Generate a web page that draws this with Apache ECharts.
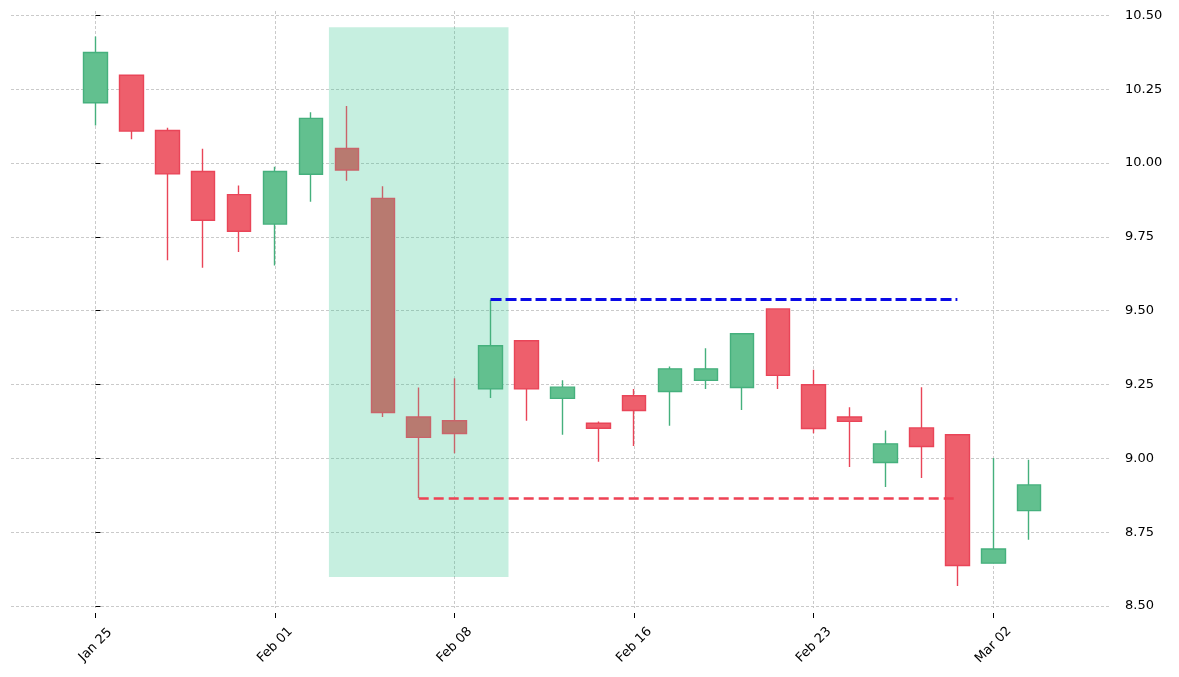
<!DOCTYPE html>
<html>
<head>
<meta charset="utf-8">
<script src="https://cdn.jsdelivr.net/npm/echarts@6/dist/echarts.min.js"></script>
<style>
  html, body { margin: 0; padding: 0; background: #fff; }
  #chart { width: 1179px; height: 677px; }
</style>
</head>
<body>
<div id="chart"></div>
<script>
// trading days shown on the chart
const dates = ['Jan 25', 'Jan 26', 'Jan 27', 'Jan 28', 'Jan 29', 'Feb 01', 'Feb 02', 'Feb 03', 'Feb 04',
    'Feb 05', 'Feb 08', 'Feb 09', 'Feb 10', 'Feb 11', 'Feb 12', 'Feb 16', 'Feb 17', 'Feb 18', 'Feb 19',
    'Feb 22', 'Feb 23', 'Feb 24', 'Feb 25', 'Feb 26', 'Mar 01', 'Mar 02', 'Mar 03'];

const opens  = [10.204, 10.297, 10.110, 9.971, 9.893, 9.793, 9.962, 10.049, 9.880, 9.140, 9.127, 9.235, 9.398,
    9.203, 9.119, 9.212, 9.226, 9.264, 9.240, 9.506, 9.249, 9.140, 8.986, 9.103, 9.080, 8.645, 8.823];
const closes = [10.374, 10.108, 9.963, 9.806, 9.769, 9.971, 10.151, 9.976, 9.155, 9.071, 9.084, 9.381, 9.235,
    9.241, 9.102, 9.162, 9.303, 9.303, 9.422, 9.281, 9.101, 9.125, 9.049, 9.040, 8.637, 8.693, 8.910];
const lows   = [10.127, 10.080, 9.671, 9.645, 9.699, 9.653, 9.869, 9.940, 9.140, 8.866, 9.017, 9.204, 9.127,
    9.080, 8.988, 9.042, 9.110, 9.235, 9.164, 9.235, 9.085, 8.971, 8.903, 8.933, 8.568, 8.645, 8.724];
const highs  = [10.428, 10.297, 10.119, 10.048, 9.924, 9.987, 10.172, 10.193, 9.921, 9.240, 9.271, 9.537, 9.398,
    9.264, 9.125, 9.235, 9.311, 9.373, 9.422, 9.506, 9.300, 9.173, 9.094, 9.241, 9.080, 9.001, 8.995];

// tick labels
const xTicks = [0, 5, 10, 15, 20, 25];
const yTicks = [8.5, 8.75, 9.0, 9.25, 9.5, 9.75, 10.0, 10.25, 10.5];

// highlighted zone (candle indices) and its price span
const zoneCandles = [7, 11];
const zonePrice = [8.598, 10.46];

// levels: resistance from the high of candle 11, support from the low of candle 9
const resistance = { from: 11, to: 24 };
const support = { from: 9, to: 23.9 };

const GREEN = '#62c08f', GREEN_LINE = '#45b07d';
const RED = '#ee5f6c', RED_LINE = '#e94558';
const BROWN = '#b87a70', BROWN_LINE = '#c9646a';

const candles = dates.map((d, i) => {
    const v = [i, opens[i], closes[i], lows[i], highs[i]];
    const inZone = i >= zoneCandles[0] && i <= zoneCandles[1];
    if (inZone && closes[i] < opens[i]) {
        return { value: v, itemStyle: { color0: BROWN, borderColor0: BROWN_LINE } };
    }
    return v;
});

const gridLine = { show: true, lineStyle: { color: '#bdbdbd', type: [3, 2], width: 0.8 } };
const tickFont = { color: '#000', fontSize: 13, fontFamily: 'DejaVu Sans' };

const chart = echarts.init(document.getElementById('chart'));
chart.setOption({
    animation: false,
    grid: { left: 11, right: 69, top: 11, bottom: 69 },
    xAxis: {
        type: 'value',
        min: -2.353,
        max: 28.25,
        offset: 5,
        axisLine: { show: false },
        axisTick: { show: true, customValues: xTicks, length: 5, lineStyle: { color: '#000', width: 1 } },
        axisLabel: Object.assign({
            customValues: xTicks,
            formatter: v => dates[v] || '',
            rotate: 45,
            align: 'center',
            verticalAlign: 'middle',
            margin: 32
        }, tickFont),
        splitLine: gridLine
    },
    yAxis: {
        type: 'value',
        position: 'right',
        min: 8.4932,
        max: 10.5146,
        offset: 5,
        scale: true,
        axisLine: { show: false },
        axisTick: { show: true, customValues: yTicks, length: 5, lineStyle: { color: '#000', width: 1 } },
        axisLabel: Object.assign({
            customValues: yTicks,
            formatter: v => v.toFixed(2),
            margin: 10
        }, tickFont),
        splitLine: gridLine
    },
    series: [
        {
            type: 'line',
            data: [],
            z: 1,
            silent: true,
            markArea: {
                silent: true,
                itemStyle: { color: 'rgba(46, 196, 140, 0.27)' },
                data: [[
                    { xAxis: zoneCandles[0] - 0.5, yAxis: zonePrice[0] },
                    { xAxis: zoneCandles[1] + 0.5, yAxis: zonePrice[1] }
                ]]
            }
        },
        {
            type: 'candlestick',
            z: 3,
            barWidth: 24,
            encode: { x: 0, y: [1, 2, 3, 4] },
            itemStyle: {
                color: GREEN,
                color0: RED,
                borderColor: GREEN_LINE,
                borderColor0: RED_LINE,
                borderWidth: 1.4
            },
            data: candles
        },
        {
            type: 'line',
            data: [],
            z: 5,
            silent: true,
            markLine: {
                silent: true,
                symbol: 'none',
                label: { show: false },
                data: [
                    [
                        { coord: [resistance.from, highs[resistance.from]], lineStyle: { color: '#0a0ae6', width: 3, type: [11, 4] } },
                        { coord: [resistance.to, highs[resistance.from]] }
                    ],
                    [
                        { coord: [support.from, lows[support.from]], lineStyle: { color: '#ee4254', width: 2.6, type: [10, 5] } },
                        { coord: [support.to, lows[support.from]] }
                    ]
                ]
            }
        }
    ]
});
</script>
</body>
</html>
